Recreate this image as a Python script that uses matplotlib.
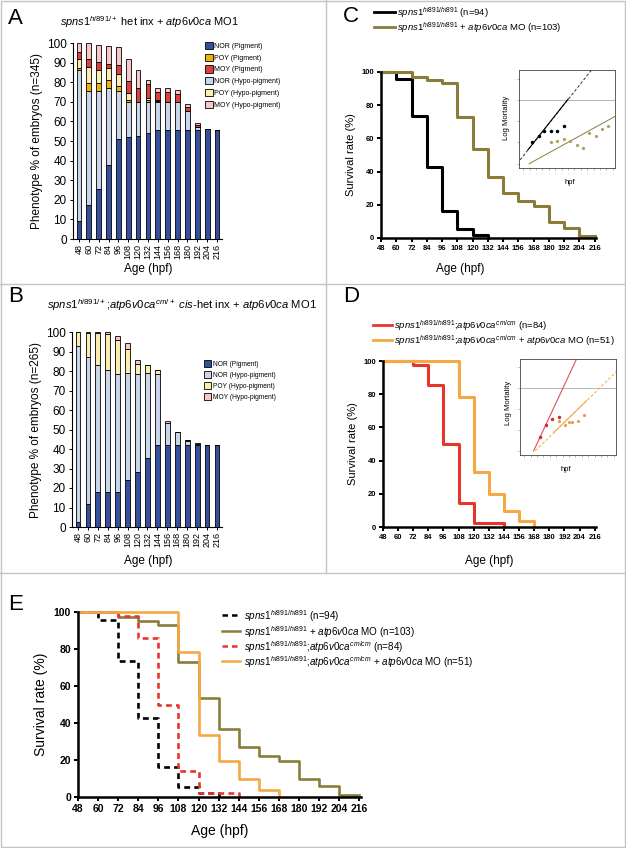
import numpy as np
import matplotlib
matplotlib.use('Agg')
import matplotlib.pyplot as plt
from matplotlib.lines import Line2D
from matplotlib.patches import Patch, Rectangle

plt.rcParams['font.family'] = ['Liberation Sans', 'DejaVu Sans']
plt.rcParams['mathtext.fontset'] = 'custom'
plt.rcParams['mathtext.rm'] = 'Liberation Sans'
plt.rcParams['mathtext.it'] = 'Liberation Sans:italic'
plt.rcParams['mathtext.bf'] = 'Liberation Sans:bold'
plt.rcParams['mathtext.default'] = 'it'

W, H = 626, 848

# ---- data ----
ages = [48, 60, 72, 84, 96, 108, 120, 132, 144, 156, 168, 180, 192, 204, 216]

# panel A (stacked %, n=345)
A_nor_pig = [9, 17.5, 25.5, 38, 51, 52, 52.5, 54, 55.5, 55.5, 55.5, 55.5, 55.5, 56, 55.5]
A_nor_hypo = [77, 58, 50, 39, 24.5, 18, 17.5, 16, 14.5, 14.5, 14.5, 10, 1.5, 0, 0]
A_poy_pig = [1.5, 4, 4, 4, 2.5, 1, 0, 1, 0.5, 0, 0, 0, 0, 0, 0]
A_poy_hypo = [4.5, 8.5, 6.5, 6, 6, 3.5, 0, 1, 0.5, 0, 0, 0, 0, 0, 0]
A_moy_pig = [3.5, 4, 4.5, 2.5, 5, 6, 7, 7, 4, 5, 4, 2, 1, 0, 0]
A_moy_hypo = [4.5, 8, 8.5, 9, 9, 11.5, 9, 2, 2, 2, 2, 1.5, 1, 0, 0]

# panel B (stacked %, n=265)
B_nor_pig = [2.5, 12, 18, 18, 18, 24, 28, 35.5, 42, 42, 42, 42, 42, 42, 42]
B_nor_hypo = [90.5, 75, 65, 62.5, 60.5, 55, 50.5, 43.5, 36.5, 11.5, 6.5, 2, 0.5, 0, 0]
B_poy_hypo = [7, 12.5, 16.5, 18.5, 17.5, 12.5, 5, 4, 2, 0, 0, 0.5, 0, 0, 0]
B_moy_hypo = [0, 0.3, 0.3, 1, 2, 3, 2, 0, 0, 1, 0, 0, 0.5, 0, 0]

# survival curves (step times, survival %)
mut_t = [48, 60, 72, 84, 96, 108, 120, 132]
mut_s = [100, 95.7, 73.4, 42.6, 16, 5.3, 2.1, 0]
mut_mo_t = [48, 72, 84, 96, 108, 120, 132, 144, 156, 168, 180, 192, 204, 216]
mut_mo_s = [100, 97.1, 95.1, 93.2, 72.8, 53.4, 36.9, 27.2, 22.3, 19.4, 9.7, 5.8, 1, 1]
dbl_t = [48, 72, 84, 96, 108, 120, 144]
dbl_s = [100, 97.6, 85.7, 50, 14.3, 2.4, 0]
dbl_mo_t = [48, 108, 120, 132, 144, 156, 168]
dbl_mo_s = [100, 78.4, 33.3, 19.6, 9.8, 3.9, 0]

lab_mut = r'$spns1^{hi891/hi891}$ (n=94)'
lab_mut_mo = r'$spns1^{hi891/hi891}$ + $atp6v0ca$ MO (n=103)'
lab_dbl = r'$spns1^{hi891/hi891}$;$atp6v0ca^{cm/cm}$ (n=84)'
lab_dbl_mo = r'$spns1^{hi891/hi891}$;$atp6v0ca^{cm/cm}$ + $atp6v0ca$ MO (n=51)'

# insets (log mortality vs hpf)
C_blk_pts_x = [64, 78, 87, 100, 112, 124]
C_blk_pts_y = [1.0, 1.31, 1.52, 1.55, 1.52, 1.75]
C_olv_pts_x = [100, 112, 124, 135, 149, 160, 171, 184, 195, 207]
C_olv_pts_y = [1.0, 1.09, 1.17, 1.08, 0.89, 0.73, 1.44, 1.28, 1.64, 1.75]
C_blk_fit_x = [42, 176]
C_blk_fit_y = [0.18, 4.4]
C_blk_solid_x = [57, 132]
C_blk_solid_y = [0.66, 3.03]
C_olv_fit_x = [59, 220]
C_olv_fit_y = [0.0, 2.22]
D_red_pts_x = [77, 89, 100, 113]
D_red_pts_y = [0.68, 1.26, 1.52, 1.62]
D_org_pts_x = [113, 124, 131, 138, 148, 160]
D_org_pts_y = [1.44, 1.26, 1.36, 1.36, 1.44, 1.7]
D_red_fit_x = [65.6, 146]
D_red_fit_y = [0.0, 4.4]
D_org_fit_x = [68.7, 221]
D_org_fit_y = [0.0, 3.8]
D_org_solid_x = [104, 165]
D_org_solid_y = [0.89, 2.41]

c_dark = '#34509c'
c_light = '#c9d6ea'
c_gold = '#f0b400'
c_pale = '#fbeeac'
c_red = '#dc4038'
c_pink = '#f6c8ca'
c_olive = '#8a7d3a'
c_rd = '#e8352b'
c_or = '#f5a843'
dash = (0, (2.2, 1.6))


def rect(l, t, r, b):
    return [l / W, 1 - b / H, (r - l) / W, (b - t) / H]


def fx(x):
    return x / W


def fy(y):
    return 1 - y / H


fig = plt.figure(figsize=(W / 100, H / 100), dpi=100)

# separators / border
grey = '#c4c4c4'
for seg in [((326, 326), (0, 573)), ((0, 626), (284, 284)), ((0, 626), (573, 573))]:
    fig.add_artist(Line2D([fx(v) for v in seg[0]], [fy(v) for v in seg[1]], color=grey, lw=1))
fig.add_artist(Rectangle((0.0008, 0.0008), 0.9984, 0.9984, transform=fig.transFigure,
                         fill=False, ec=grey, lw=1))


def bar_panel(box, layers, ylabel):
    ax = fig.add_axes(box)
    pos = np.arange(len(ages))
    bottom = np.zeros(len(ages))
    for vals, col in layers:
        ax.bar(pos, vals, 0.48, bottom=bottom, color=col, edgecolor='black', linewidth=0.6)
        bottom += np.array(vals)
    ax.set_xlim(-0.6, 14.5)
    ax.set_ylim(0, 100)
    ax.set_yticks(range(0, 101, 10))
    ax.set_xticks(pos)
    ax.set_xticklabels([str(a) for a in ages], rotation=90, fontsize=6.5)
    ax.tick_params(axis='y', labelsize=8.5, length=2.5, width=0.7, pad=2)
    ax.tick_params(axis='x', length=2, width=0.7, pad=1.5)
    for s in ['top', 'right']:
        ax.spines[s].set_visible(False)
    for s in ['left', 'bottom']:
        ax.spines[s].set_linewidth(0.8)
    ax.set_ylabel(ylabel, fontsize=8.5, labelpad=3)
    return ax


def line_legend(x0, x1, tx, ys, styles, labels, fs, lw):
    for y, (col, ls), lab in zip(ys, styles, labels):
        fig.add_artist(Line2D([fx(x0), fx(x1)], [fy(y), fy(y)], color=col, lw=lw, ls=ls))
        fig.text(fx(tx), fy(y + 1), lab, fontsize=fs, ha='left', va='center')


# ---- panel A ----
axA = bar_panel(rect(73, 43, 222, 239),
                [(A_nor_pig, c_dark), (A_nor_hypo, c_light), (A_poy_pig, c_gold),
                 (A_poy_hypo, c_pale), (A_moy_pig, c_red), (A_moy_hypo, c_pink)],
                'Phenotype % of embryos (n=345)')
legA = [(c_dark, 'NOR (Pigment)'), (c_gold, 'POY (Pigment)'), (c_red, 'MOY (Pigment)'),
        (c_light, 'NOR (Hypo-pigment)'), (c_pale, 'POY (Hypo-pigment)'), (c_pink, 'MOY (Hypo-pigment)')]
fig.legend([Patch(fc=c, ec='black', lw=0.6) for c, _ in legA], [l for _, l in legA],
           loc='upper left', bbox_to_anchor=(fx(205), fy(42)), frameon=False, fontsize=5.0,
           handlelength=1.1, handleheight=1.2, handletextpad=0.25, labelspacing=0.55,
           borderpad=0, borderaxespad=0)
fig.text(fx(8), fy(18), 'A', fontsize=16, va='center', ha='left')
fig.text(fx(149), fy(22), r'$spns1^{hi891/+}$ het inx + $atp6v0ca$ MO1', fontsize=7.9,
         ha='center', va='center')
fig.text(fx(148), fy(269), 'Age (hpf)', fontsize=8.5, ha='center', va='center')

# ---- panel B ----
axB = bar_panel(rect(72, 332, 222, 527),
                [(B_nor_pig, c_dark), (B_nor_hypo, c_light), (B_poy_hypo, c_pale),
                 (B_moy_hypo, c_pink)],
                'Phenotype % of embryos (n=265)')
legB = [(c_dark, 'NOR (Pigment)'), (c_light, 'NOR (Hypo-pigment)'), (c_pale, 'POY (Hypo-pigment)'),
        (c_pink, 'MOY (Hypo-pigment)')]
fig.legend([Patch(fc=c, ec='black', lw=0.6) for c, _ in legB], [l for _, l in legB],
           loc='upper left', bbox_to_anchor=(fx(204), fy(360)), frameon=False, fontsize=4.8,
           handlelength=1.1, handleheight=1.2, handletextpad=0.25, labelspacing=0.5,
           borderpad=0, borderaxespad=0)
fig.text(fx(8), fy(297), 'B', fontsize=16, va='center', ha='left')
fig.text(fx(182), fy(305), r'$spns1^{hi891/+}$;$atp6v0ca^{cm/+}$ $cis$-het inx + $atp6v0ca$ MO1',
         fontsize=8.1, ha='center', va='center')
fig.text(fx(148), fy(561), 'Age (hpf)', fontsize=8.5, ha='center', va='center')


def surv_axes(box, tsize, lsize, lw_sp):
    ax = fig.add_axes(box)
    ax.set_xlim(48, 217)
    ax.set_ylim(0, 100)
    ax.set_xticks(ages)
    ax.set_yticks(range(0, 101, 20))
    for s in ['top', 'right']:
        ax.spines[s].set_visible(False)
    for s in ['left', 'bottom']:
        ax.spines[s].set_linewidth(lw_sp)
    ax.tick_params(length=3, width=lw_sp * 0.8, labelsize=tsize, pad=2)
    for lab in ax.get_xticklabels() + ax.get_yticklabels():
        lab.set_fontweight('bold')
    ax.set_ylabel('Survival rate (%)', fontsize=lsize, labelpad=4)
    return ax


def inset(box, ylab_x, ylab_y, xlab_x, xlab_y):
    ax = fig.add_axes(box)
    ax.set_xlim(40, 220)
    ax.set_ylim(-0.2, 4.4)
    ax.set_xticks(ages)
    ax.set_yticks([0, 1, 2, 3, 4])
    ax.tick_params(length=1.5, width=0.4, labelsize=2, colors='#777777', pad=1)
    ax.set_xticklabels(['-'] * len(ages))
    ax.set_yticklabels(['-'] * 5)
    for s in ax.spines.values():
        s.set_linewidth(0.6)
        s.set_color('#444444')
    ax.axhline(3, color='#b5b5b5', lw=0.7)
    fig.text(fx(ylab_x), fy(ylab_y), 'Log Mortality', rotation=90, fontsize=5.5,
             ha='center', va='center')
    fig.text(fx(xlab_x), fy(xlab_y), 'hpf', fontsize=5.5, ha='center', va='center')
    return ax


# ---- panel C ----
axC = surv_axes(rect(381, 72, 596, 238), 5.5, 8, 1.8)
axC.step(mut_t, mut_s, where='post', color='black', lw=2.2, clip_on=False)
axC.step(mut_mo_t, mut_mo_s, where='post', color=c_olive, lw=2.2, clip_on=False)
line_legend(374, 395, 397, [12, 27], [('black', '-'), (c_olive, '-')],
            [lab_mut, lab_mut_mo], 6.8, 2.0)
fig.text(fx(343), fy(16), 'C', fontsize=16, va='center', ha='left')
fig.text(fx(460), fy(269), 'Age (hpf)', fontsize=8.5, ha='center', va='center')
iC = inset(rect(519, 70, 615, 168), 507, 118, 570, 183)
iC.plot(C_blk_fit_x, C_blk_fit_y, color='#333333', lw=0.7, ls=(0, (3, 2)))
iC.plot(C_blk_solid_x, C_blk_solid_y, color='black', lw=0.8)
iC.plot(C_olv_fit_x, C_olv_fit_y, color=c_olive, lw=0.7)
iC.plot(C_blk_pts_x, C_blk_pts_y, 'o', color='black', ms=1.5)
iC.plot(C_olv_pts_x, C_olv_pts_y, 'o', color='#b0a060', ms=1.3)

# ---- panel D ----
axD = surv_axes(rect(383, 361, 596, 527), 5.5, 8, 1.8)
axD.step(dbl_t, dbl_s, where='post', color=c_rd, lw=2.2, clip_on=False)
axD.step(dbl_mo_t, dbl_mo_s, where='post', color=c_or, lw=2.2, clip_on=False)
line_legend(373, 392, 394, [325, 340], [(c_rd, '-'), (c_or, '-')],
            [lab_dbl, lab_dbl_mo], 6.8, 2.0)
fig.text(fx(343), fy(297), 'D', fontsize=16, va='center', ha='left')
fig.text(fx(489), fy(561), 'Age (hpf)', fontsize=8.5, ha='center', va='center')
iD = inset(rect(520, 359, 616, 455), 508, 403, 566, 470)
iD.plot(D_org_fit_x, D_org_fit_y, color=c_or, lw=0.7, ls=(0, (3, 2)))
iD.plot(D_org_solid_x, D_org_solid_y, color=c_or, lw=0.8)
iD.plot(D_red_fit_x, D_red_fit_y, color='#e05050', lw=0.8)
iD.plot(D_red_pts_x, D_red_pts_y, 'o', color='#d03030', ms=1.5)
iD.plot(D_org_pts_x, D_org_pts_y, 'o', color='#e8a050', ms=1.3)

# ---- panel E ----
axE = surv_axes(rect(78, 612, 361, 797), 7.5, 10, 1.8)
axE.set_xlabel('Age (hpf)', fontsize=10, labelpad=7)
axE.step(mut_t, mut_s, where='post', color='black', lw=1.9, ls=dash, clip_on=False)
axE.step(mut_mo_t, mut_mo_s, where='post', color=c_olive, lw=1.9, clip_on=False)
axE.step(dbl_t, dbl_s, where='post', color=c_rd, lw=1.9, ls=dash, clip_on=False)
axE.step(dbl_mo_t, dbl_mo_s, where='post', color=c_or, lw=1.9, clip_on=False)
line_legend(222, 240, 244, [615, 631, 646, 661],
            [('black', dash), (c_olive, '-'), (c_rd, dash), (c_or, '-')],
            [lab_mut, lab_mut_mo, lab_dbl, lab_dbl_mo], 7.1, 1.8)
fig.text(fx(8), fy(604), 'E', fontsize=16, va='center', ha='left')

fig.savefig('out.png', dpi=100)
